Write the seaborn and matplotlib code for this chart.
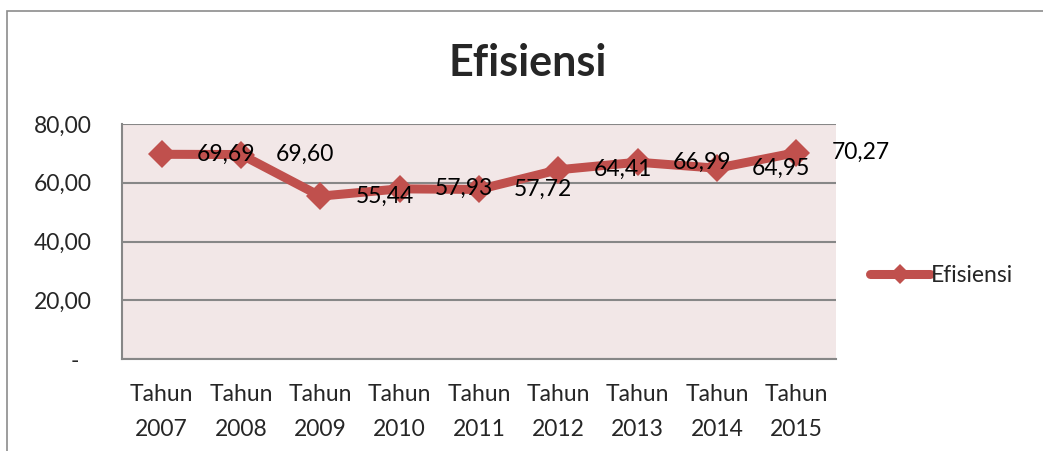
import numpy as np
import pandas as pd
import matplotlib
matplotlib.use("Agg")
import matplotlib.pyplot as plt
import seaborn as sns
from matplotlib.patches import Rectangle

years = ["2007", "2008", "2009", "2010", "2011", "2012", "2013", "2014", "2015"]
efisiensi = [69.69, 69.60, 55.44, 57.93, 57.72, 64.41, 66.99, 64.95, 70.27]
y_ticks = [0, 20, 40, 60, 80]
y_tick_labels = ["-  ", "20,00", "40,00", "60,00", "80,00"]

line_color = "#C0504D"
plot_bg = "#F2E7E7"
grid_color = "#878787"

sns.set_theme(style="white")
plt.rcParams["font.family"] = ["Lato", "DejaVu Sans"]

df = pd.DataFrame({"tahun": ["Tahun\n" + y for y in years], "nilai": efisiensi})

fig = plt.figure(figsize=(10.43, 4.51), dpi=100)
ax = fig.add_axes([122 / 1043, 1 - 359 / 451, (836 - 122) / 1043, (359 - 124) / 451])

# outer chart frame (cut off at right/bottom like the original)
fig.patches.append(Rectangle((7 / 1043, -0.1), 1.2, 1 - 11 / 451 + 0.1,
                             transform=fig.transFigure, fill=False,
                             edgecolor="#8C8C8C", linewidth=1.2))

sns.lineplot(data=df, x="tahun", y="nilai", ax=ax, color=line_color,
             linewidth=6.5, marker="D", markersize=14, markeredgewidth=0,
             label="Efisiensi", sort=False)

for i, v in enumerate(efisiensi):
    ax.annotate(f"{v:.2f}".replace(".", ","), (i, v), xytext=(35, 0),
                textcoords="offset pixels", ha="left", va="center",
                fontsize=16.5, color="black")

ax.set_facecolor(plot_bg)
ax.set_xlim(-0.5, len(years) - 0.5)
ax.set_ylim(0, 80)
ax.set_yticks(y_ticks)
ax.set_yticklabels(y_tick_labels)
ax.yaxis.grid(True, color=grid_color, linewidth=1.5)
ax.set_axisbelow(True)
ax.tick_params(axis="y", length=0, pad=22, labelsize=16.5)
ax.tick_params(axis="x", length=0, pad=18, labelsize=16.5)
for lbl in ax.get_xticklabels():
    lbl.set_multialignment("center")
    lbl.set_linespacing(1.85)
ax.set_xlabel("")
ax.set_ylabel("")

for side in ["top", "right"]:
    ax.spines[side].set_visible(False)
for side in ["left", "bottom"]:
    ax.spines[side].set_color(grid_color)
    ax.spines[side].set_linewidth(1.5)

ax.legend(loc="center left", bbox_to_anchor=(870 / 1043, 1 - 276 / 451),
          bbox_transform=fig.transFigure, frameon=False, fontsize=16.5,
          handlelength=2.6, handletextpad=0.05, borderaxespad=0, borderpad=0,
          markerscale=0.7)

fig.text(528 / 1043, 1 - 63 / 451, "Efisiensi", ha="center", va="center",
         fontsize=31, fontweight="bold")

fig.savefig("out.png", dpi=100)
